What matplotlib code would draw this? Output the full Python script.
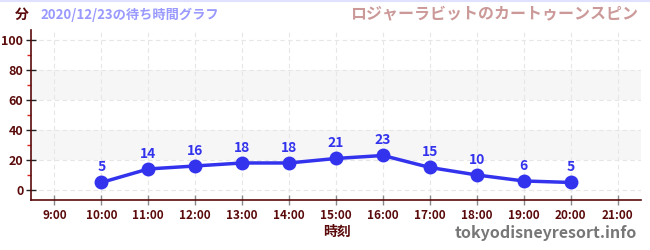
import matplotlib
matplotlib.use("Agg")
import matplotlib.pyplot as plt
from matplotlib.ticker import MultipleLocator

plt.rcParams['font.family'] = ['Noto Sans CJK JP', 'DejaVu Sans']

hours = [10, 11, 12, 13, 14, 15, 16, 17, 18, 19, 20]
waits = [5, 14, 16, 18, 18, 21, 23, 15, 10, 6, 5]
xtick_hours = list(range(9, 22))
xtick_labels = [f"{h}:00" for h in xtick_hours]
ytick_values = [0, 20, 40, 60, 80, 100]

title_date = "2020/12/23の待ち時間グラフ"
title_ride = "ロジャーラビットのカートゥーンスピン"
unit_label = "分"
x_label = "時刻"
site = "tokyodisneyresort.info"

dark = "#5a0a0a"

fig = plt.figure(figsize=(6.5, 2.5), dpi=100)
ax = fig.add_axes([31/650, 0.2, 610/650, 0.68])

ax.set_xlim(8.5, 21.5)
ax.set_ylim(-6.7, 106.7)

for lo, hi in [(20, 40), (60, 80)]:
    ax.axhspan(lo, hi, color="#f6f6f6", zorder=0, lw=0)

ax.set_xticks(xtick_hours)
ax.set_xticklabels(xtick_labels)
ax.set_yticks(ytick_values)
ax.yaxis.set_minor_locator(MultipleLocator(10))

ax.grid(True, which="major", color="#e6e6e6", linestyle=(0, (4, 3)), linewidth=0.8, zorder=0.5)

for s in ["top", "right"]:
    ax.spines[s].set_visible(False)
for s in ["left", "bottom"]:
    ax.spines[s].set_color(dark)
    ax.spines[s].set_linewidth(1.2)

ax.tick_params(axis="y", which="major", direction="inout", length=7, width=1, color="#222222",
               labelsize=9, labelcolor=dark, pad=2)
ax.tick_params(axis="y", which="minor", direction="out", length=3, width=1, color="#dd2222")
ax.tick_params(axis="x", which="major", direction="inout", length=7, width=1, color="#888888",
               labelsize=8.5, labelcolor=dark, pad=3)
for lab in ax.get_xticklabels() + ax.get_yticklabels():
    lab.set_fontweight("bold")

ax.plot(hours, waits, color="#3333ee", linewidth=2.5, marker="o", markersize=9,
        markerfacecolor="#3333ee", markeredgecolor="#3333ee", zorder=3, clip_on=False)
for h, w in zip(hours, waits):
    ax.annotate(str(w), (h, w), xytext=(0, 6), textcoords="offset points", ha="center",
                va="bottom", color="#3333ee", fontsize=10, fontweight="bold")

fig.text(22/650, 1 - 15/250, unit_label, ha="center", va="center", color=dark,
         fontsize=10, fontweight="bold")
fig.text(40/650, 1 - 15/250, title_date, ha="left", va="center", color="#9999ff",
         fontsize=9.5, fontweight="bold")
fig.text(638/650, 1 - 13/250, title_ride, ha="right", va="center", color="#cc9999",
         fontsize=11.5, fontweight="bold")
fig.text(337/650, 1 - 232/250, x_label, ha="center", va="center", color=dark,
         fontsize=10, fontweight="bold")
fig.text(637/650, 1 - 233/250, site, ha="right", va="center", color="#777777",
         fontsize=11.5, fontweight="bold")

fig.add_artist(plt.Line2D([0, 1], [0.998, 0.998], color="#e0e0ff", linewidth=1.5,
                          transform=fig.transFigure))

fig.savefig("out.png", dpi=100)
